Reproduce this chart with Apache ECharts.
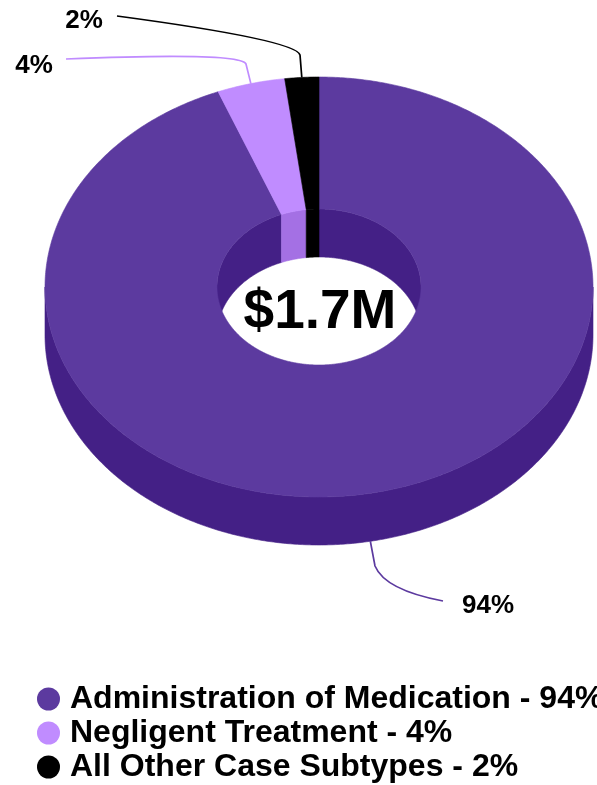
<!DOCTYPE html>
<html>
<head>
<meta charset="utf-8">
<script src="https://cdn.jsdelivr.net/npm/echarts@6/dist/echarts.min.js"></script>
<style>
  html, body { margin: 0; padding: 0; background: #fff; }
  #chart { width: 597px; height: 785px; }
</style>
</head>
<body>
<div id="chart"></div>
<script>
// Case subtypes and their share of the total
const categories = ['Administration of Medication', 'Negligent Treatment', 'All Other Case Subtypes'];
const shares = [94, 4, 2];
const shareLabels = ['94%', '4%', '2%'];
const centerLabel = '$1.7M';

// Face and wall colours per slice
const topColors = ['#5c3a9f', '#c08cff', '#000000'];
const sideColors = ['#442086', '#a470e4', '#000000'];

// Ring geometry: centre, outer / inner ellipse radii and extrusion depth (px)
const ring = { cx: 319, cy: 287, rx: 274, ry: 210, irx: 102, iry: 78, depth: 48 };

// Leader line routing and label placement per slice
const leaderLayout = [
  { bend: [375, 566], ctrl: [385, 590], end: [443, 601], text: [488, 606], onBase: true },
  { bend: [246, 64], ctrl: [240, 52], end: [66, 59], text: [34, 66], onBase: false },
  { bend: [300, 55], ctrl: [296, 40], end: [117, 16], text: [84, 21], onBase: false }
];

const FONT = '"Liberation Sans", Arial, Helvetica, sans-serif';
const total = shares.reduce((a, b) => a + b, 0);
const starts = [];
shares.reduce((acc, v) => { starts.push(acc / total * 360); return acc + v; }, 0);

// Angles run clockwise from 12 o'clock
function arc(rx, ry, dy, a0, a1) {
  const pts = [];
  const n = Math.max(2, Math.ceil(Math.abs(a1 - a0) / 0.5));
  for (let k = 0; k <= n; k++) {
    const a = (a0 + (a1 - a0) * k / n) * Math.PI / 180;
    pts.push([ring.cx + rx * Math.sin(a), ring.cy - ry * Math.cos(a) + dy]);
  }
  return pts;
}
function overlap(a0, a1, b0, b1) {
  const lo = Math.max(a0, b0), hi = Math.min(a1, b1);
  return hi > lo ? [lo, hi] : null;
}
function poly(points, color, z2) {
  return {
    type: 'polygon', z2: z2,
    shape: { points: points },
    style: { fill: color, stroke: color, lineWidth: 0.6 }
  };
}

function renderItem(params, api) {
  const i = params.dataIndex;
  const span = api.value(0) / total * 360;
  const a0 = starts[i], a1 = a0 + span;
  const children = [];

  // Outer wall, visible on the front half
  const front = overlap(a0, a1, 90, 270);
  if (front) {
    const pts = arc(ring.rx, ring.ry, 0, front[0], front[1])
      .concat(arc(ring.rx, ring.ry, ring.depth, front[1], front[0]));
    children.push(poly(pts, sideColors[i], 10));
  }
  // Inner wall, visible through the hole on the back half
  [[0, 90], [270, 360]].forEach(([b0, b1]) => {
    const back = overlap(a0, a1, b0, b1);
    if (back) {
      const pts = arc(ring.irx, ring.iry, 0, back[0], back[1])
        .concat(arc(ring.irx, ring.iry, ring.depth, back[1], back[0]));
      children.push(poly(pts, sideColors[i], 10));
    }
  });
  // Top face
  const topPts = arc(ring.rx, ring.ry, 0, a0, a1).concat(arc(ring.irx, ring.iry, 0, a1, a0));
  children.push(poly(topPts, topColors[i], 30));

  // Leader line from the slice midpoint
  const lay = leaderLayout[i];
  const m = (a0 + a1) / 2 * Math.PI / 180;
  const ax = ring.cx + ring.rx * Math.sin(m);
  const ay = ring.cy - ring.ry * Math.cos(m) + (lay.onBase ? ring.depth : 0);
  const d = 'M' + ax + ' ' + ay + ' L' + lay.bend[0] + ' ' + lay.bend[1] +
    ' Q' + lay.ctrl[0] + ' ' + lay.ctrl[1] + ' ' + lay.end[0] + ' ' + lay.end[1];
  children.push({
    type: 'path', z2: 40,
    shape: { pathData: d },
    style: { fill: null, stroke: topColors[i], lineWidth: 1.7 }
  });
  children.push({
    type: 'text', z2: 41,
    style: {
      text: shareLabels[i], x: lay.text[0], y: lay.text[1],
      align: 'center', verticalAlign: 'middle',
      font: 'bold 26px ' + FONT, fill: '#000'
    }
  });
  return { type: 'group', children: children };
}

const chart = echarts.init(document.getElementById('chart'), null, { renderer: 'canvas' });
chart.setOption({
  animation: false,
  backgroundColor: '#ffffff',
  legend: {
    data: categories,
    orient: 'vertical',
    left: 37,
    top: 682,
    height: 140,
    padding: 0,
    itemWidth: 23,
    itemHeight: 23,
    itemGap: 0,
    icon: 'circle',
    selectedMode: false,
    formatter: name => name + ' - ' + shareLabels[categories.indexOf(name)],
    textStyle: {
      fontSize: 32, fontWeight: 'bold', fontFamily: FONT, color: '#000',
      lineHeight: 34, padding: [0, 0, 0, 5]
    }
  },
  graphic: [{
    type: 'text', x: 320, y: 313, z: 100,
    style: {
      text: centerLabel, font: 'bold 55px ' + FONT, fill: '#000',
      align: 'center', verticalAlign: 'middle'
    }
  }],
  series: [
    {
      type: 'custom',
      coordinateSystem: 'none',
      silent: true,
      renderItem: renderItem,
      data: shares
    },
    {
      // Carries the category colours for the legend only
      type: 'pie',
      radius: [0, 0],
      silent: true,
      label: { show: false },
      labelLine: { show: false },
      data: categories.map((n, i) => ({ name: n, value: shares[i], itemStyle: { color: topColors[i] } }))
    }
  ]
});
</script>
</body>
</html>
